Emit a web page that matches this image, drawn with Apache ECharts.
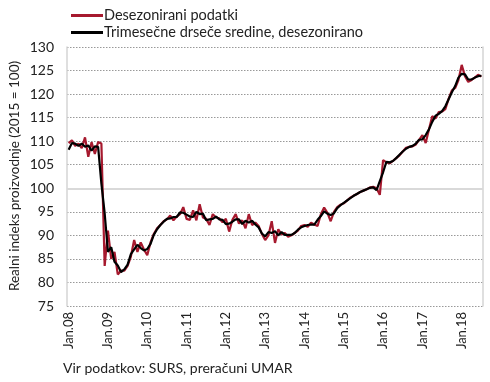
<!DOCTYPE html>
<html><head><meta charset="utf-8">
<script src="https://cdn.jsdelivr.net/npm/echarts@6/dist/echarts.min.js"></script>
<style>html,body{margin:0;padding:0;background:#fff}#c{width:490px;height:382px}</style>
</head><body><div id="c"></div>
<script>
var monthNames = ["Jan","Feb","Mar","Apr","May","Jun","Jul","Aug","Sep","Oct","Nov","Dec"];
var years = ["08","09","10","11","12","13","14","15","16","17","18"];
var yTicks = [75,80,85,90,95,100,105,110,115,120,125,130];
var seriesNames = ["Desezonirani podatki","Trimesečne drseče sredine, desezonirano"];
var yTitle = "Realni indeks proizvodnje (2015 = 100)";
var source = "Vir podatkov: SURS, preračuni UMAR";

var desezonirani = [
109.6,110.2,109.0,109.5,108.5,110.8,106.7,109.8,107.3,109.8,109.5,83.5,
91.0,85.0,86.5,81.7,82.5,82.5,83.5,85.5,89.0,86.5,88.5,87.0,
85.8,88.5,90.3,91.5,92.2,93.0,93.4,94.2,93.2,94.0,94.5,96.0,
93.5,93.3,95.3,93.2,96.6,93.8,93.5,92.2,94.5,93.8,93.6,92.8,
93.5,90.8,93.3,94.5,92.5,93.2,91.5,94.5,92.2,92.7,92.0,90.3,
89.0,90.0,93.0,88.4,91.3,90.2,90.5,89.7,90.0,90.5,91.0,92.0,
92.2,91.8,92.7,92.3,92.0,94.5,95.9,94.8,93.0,95.0,96.0,96.5,
96.8,97.4,98.0,98.4,98.8,99.2,99.5,99.8,100.2,100.3,100.0,98.6,
106.0,105.5,105.3,105.8,106.4,107.0,107.8,108.6,108.8,108.9,109.3,110.3,
111.3,109.6,112.5,115.3,114.8,116.2,116.3,116.8,119.0,120.8,121.3,123.0,
126.2,123.8,122.6,123.0,123.5,124.1,123.7
];
var drsece = [
108.2,109.6,109.5,109.0,109.5,108.8,109.1,108.0,108.9,108.8,101.0,94.7,
86.5,87.5,84.4,83.6,82.2,82.8,83.8,86.0,87.0,88.0,87.3,86.8,
87.1,88.2,90.1,91.3,92.2,92.9,93.5,93.6,93.9,93.9,94.9,94.8,
94.4,94.0,93.9,95.0,94.5,94.6,93.2,93.4,93.5,94.0,93.4,93.3,
92.4,92.5,92.9,93.4,93.4,92.4,93.1,92.7,93.1,92.3,91.7,90.4,
89.8,90.7,90.5,90.9,90.0,90.7,90.1,90.1,90.1,90.5,91.2,91.7,
92.0,92.2,92.3,92.3,93.3,94.1,95.1,94.6,94.3,94.7,95.8,96.4,
96.9,97.4,97.9,98.4,98.8,99.2,99.5,99.8,100.1,100.2,99.6,101.5,
103.4,105.6,105.5,105.8,106.4,107.1,107.8,108.4,108.8,109.0,109.5,110.3,
110.4,111.3,112.5,114.1,115.4,115.8,116.4,117.4,118.9,120.4,121.7,123.5,
124.3,124.2,123.1,123.1,123.5,123.8,123.9
];

var categories = [];
for (var y = 0; y < years.length; y++) {
  for (var m = 0; m < 12; m++) {
    if (categories.length < desezonirani.length) categories.push(monthNames[m] + "." + years[y]);
  }
}

var FONT = "Lato";
var chart = echarts.init(document.getElementById('c'), null, {renderer: 'canvas'});
chart.setOption({
  animation: false,
  backgroundColor: '#fff',
  textStyle: {fontFamily: FONT},
  legend: {
    orient: 'vertical', left: 66, top: 3, itemGap: 2,
    itemWidth: 32, itemHeight: 3, icon: 'rect',
    textStyle: {fontFamily: FONT, fontSize: 14.5, color: '#222', padding: [0,0,0,-4]},
    data: [{name: seriesNames[0], itemStyle: {color: '#a6192e'}}, {name: seriesNames[1], itemStyle: {color: '#000'}}]
  },
  grid: {left: 67, right: 7, top: 47, bottom: 76},
  xAxis: {
    type: 'category', data: categories, boundaryGap: true,
    axisLine: {show: false}, axisTick: {show: false},
    axisLabel: {rotate: 90, interval: function (i) { return i % 12 === 0; }, fontFamily: FONT, fontSize: 13, color: '#222', margin: 6},
    splitLine: {show: false}
  },
  yAxis: [{
    type: 'value', min: 75, max: 130, interval: 5,
    axisLine: {show: true, lineStyle: {color: '#d4d4d4', width: 1.5}}, axisTick: {show: false},
    axisLabel: {fontFamily: FONT, fontSize: 14, color: '#222', margin: 13},
    splitLine: {show: true, lineStyle: {color: '#999', type: [1.5, 1.5], width: 1}}
  }, {
    type: 'value', min: 75, max: 130, interval: 5, position: 'right',
    axisLine: {show: true, lineStyle: {color: '#d4d4d4', width: 1.5}}, axisTick: {show: false},
    axisLabel: {show: false}, splitLine: {show: false}
  }],
  graphic: [
    {type: 'text', x: 15, y: 176, rotation: Math.PI/2,
     style: {text: yTitle, font: '13.5px "' + FONT + '"', fill: '#222', align: 'center', verticalAlign: 'middle'}},
    {type: 'text', x: 63, y: 368, style: {text: source, font: '14px "' + FONT + '"', fill: '#222', verticalAlign: 'middle'}}
  ],
  series: [
    {name: seriesNames[0], type: 'line', data: desezonirani, symbol: 'none', z: 2,
     lineStyle: {color: '#a6192e', width: 2.2}, itemStyle: {color: '#a6192e'},
     markLine: {silent: true, symbol: 'none', label: {show: false}, lineStyle: {color: '#d9d9d9', type: 'solid', width: 2}, data: [{yAxis: 100}], z: 1}},
    {name: seriesNames[1], type: 'line', data: drsece, symbol: 'none', z: 3,
     lineStyle: {color: '#000', width: 2.2}, itemStyle: {color: '#000'}}
  ]
});
</script></body></html>
